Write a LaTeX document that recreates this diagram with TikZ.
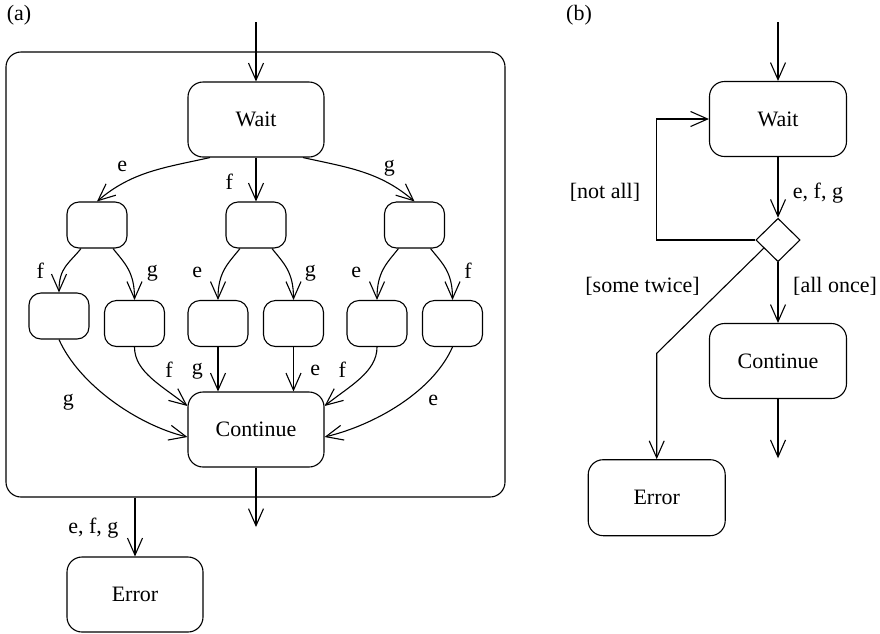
\documentclass[tikz,border=0pt]{standalone}
\usepackage{fontspec}
\setmainfont{Liberation Serif}
\usetikzlibrary{arrows.meta,shapes.geometric,calc}
\begin{document}
\begin{tikzpicture}[x=1pt,y=-1pt,
  line width=1.1pt,
  font=\fontsize{22}{26}\selectfont,
  tip/.style={-{Straight Barb[length=17pt,width=15pt]}},
  state/.style={draw,rounded corners=15pt,minimum width=136pt,minimum height=75pt,inner sep=0pt},
  sub/.style={draw,rounded corners=12pt,minimum width=60pt,minimum height=46pt,inner sep=0pt},
  lbl/.style={inner sep=0pt}]
\useasboundingbox (0,0) rectangle (880,633);

% ---------- panel (a) ----------
\node[lbl] (la) at (19,15) {(a)};
\node[draw,rounded corners=15pt,minimum width=499pt,minimum height=445pt,inner sep=0pt] (outer) at (255.5,274.5) {};
\node[state] (wait) at (256,119.5) {Wait};
\node[sub] (l1a) at (97,225) {};
\node[sub] (l1b) at (256,225) {};
\node[sub] (l1c) at (414.5,225) {};
\node[sub] (b1) at (59,316) {};
\node[sub] (b2) at (134.5,323.5) {};
\node[sub] (b3) at (218,323.5) {};
\node[sub] (b4) at (293.5,323.5) {};
\node[sub] (b5) at (377,323.5) {};
\node[sub] (b6) at (452.5,323.5) {};
\node[state] (cont) at (256,429.5) {Continue};
\node[state] (err) at (135,594.5) {Error};
\coordinate (ain) at (256,22);
\coordinate (aout) at (256,527);

\draw[tip] (ain) -- (wait.north);
\draw[tip] ($(wait.south)+(-46,0)$) .. controls +(-45,10) and +(35,-30) .. (l1a.north);
\draw[tip] (wait.south) -- (l1b.north);
\draw[tip] ($(wait.south)+(47,0)$) .. controls +(45,10) and +(-35,-30) .. (l1c.north);

\draw[tip] ($(l1a.south)+(-16,0)$) .. controls +(-12,15) and +(0,-25) .. (b1.north);
\draw[tip] ($(l1a.south)+(16,0)$) .. controls +(12,15) and +(0,-28) .. (b2.north);
\draw[tip] ($(l1b.south)+(-16,0)$) .. controls +(-12,15) and +(0,-28) .. (b3.north);
\draw[tip] ($(l1b.south)+(16,0)$) .. controls +(12,15) and +(0,-28) .. (b4.north);
\draw[tip] ($(l1c.south)+(-16,0)$) .. controls +(-12,15) and +(0,-28) .. (b5.north);
\draw[tip] ($(l1c.south)+(16,0)$) .. controls +(12,15) and +(0,-28) .. (b6.north);

\draw[tip] (b1.south) .. controls +(20,45) and +(-50,-12) .. ($(cont.west)+(0,7.5)$);
\draw[tip] (b2.south) .. controls +(0,25) and +(-25,-20) .. ($(cont.west)+(0,-23.5)$);
\draw[tip] (b3.south) -- (b3.south |- cont.north);
\draw[tip] (b4.south) -- (b4.south |- cont.north);
\draw[tip] (b5.south) .. controls +(0,25) and +(25,-20) .. ($(cont.east)+(0,-23.5)$);
\draw[tip] (b6.south) .. controls +(-20,45) and +(50,-12) .. ($(cont.east)+(0,7.5)$);

\draw[tip] (cont.south) -- (aout);
\draw[tip] (err.north |- outer.south) -- (err.north);

\node[lbl] (te) at (122.3,166.7) {e};
\node[lbl] (tf) at (229.3,181.7) {f};
\node[lbl] (tg) at (389.3,168.3) {g};
\node[lbl] (t1) at (40.3,271) {f};
\node[lbl] (t2) at (152.3,273.3) {g};
\node[lbl] (t3) at (197.3,272.3) {e};
\node[lbl] (t4) at (310.3,273.3) {g};
\node[lbl] (t5) at (356.3,272.3) {e};
\node[lbl] (t6) at (468,271) {f};
\node[lbl] (u1) at (68.3,402.7) {g};
\node[lbl] (u2) at (169,369.3) {f};
\node[lbl] (u3) at (197.3,371) {g};
\node[lbl] (u4) at (315.3,370.7) {e};
\node[lbl] (u5) at (342.3,369.3) {f};
\node[lbl] (u6) at (433.3,400.7) {e};
\node[lbl] (tefg) at (93.3,528.3) {e, f, g};

% ---------- panel (b) ----------
\node[lbl] (lb) at (579,15) {(b)};
\node[state,minimum width=137pt] (bwait) at (778,119) {Wait};
\node[draw,diamond,minimum width=44.3pt,minimum height=43.4pt,inner sep=0pt] (dia) at (778,240) {};
\node[state,minimum width=137pt] (bcont) at (778,361) {Continue};
\node[state,minimum width=137pt,minimum height=76pt] (berr) at (656.7,497.7) {Error};
\coordinate (bin) at (778,22);
\coordinate (bout) at (778,458.3);
\coordinate (loopc) at (656.7,119);
\coordinate (kink) at (656.7,353.3);

\draw[tip] (bin) -- (bwait.north);
\draw[tip] (bwait.south) -- (dia.north);
\draw[tip] (dia.west) -| (loopc) -- (bwait.west);
\draw[tip] (dia.south) -- (bcont.north);
\draw[tip] (bcont.south) -- (bout);
\draw[tip] ($(dia.west)!0.37!(dia.south)$) -- (kink) -- (berr.north);

\node[lbl] (befg) at (818,193) {e, f, g};
\node[lbl] (notall) at (605,192) {[not all]};
\node[lbl] (allonce) at (835,286.7) {[all once]};
\node[lbl] (twice) at (642.5,286.7) {[some twice]};
\end{tikzpicture}
\end{document}
